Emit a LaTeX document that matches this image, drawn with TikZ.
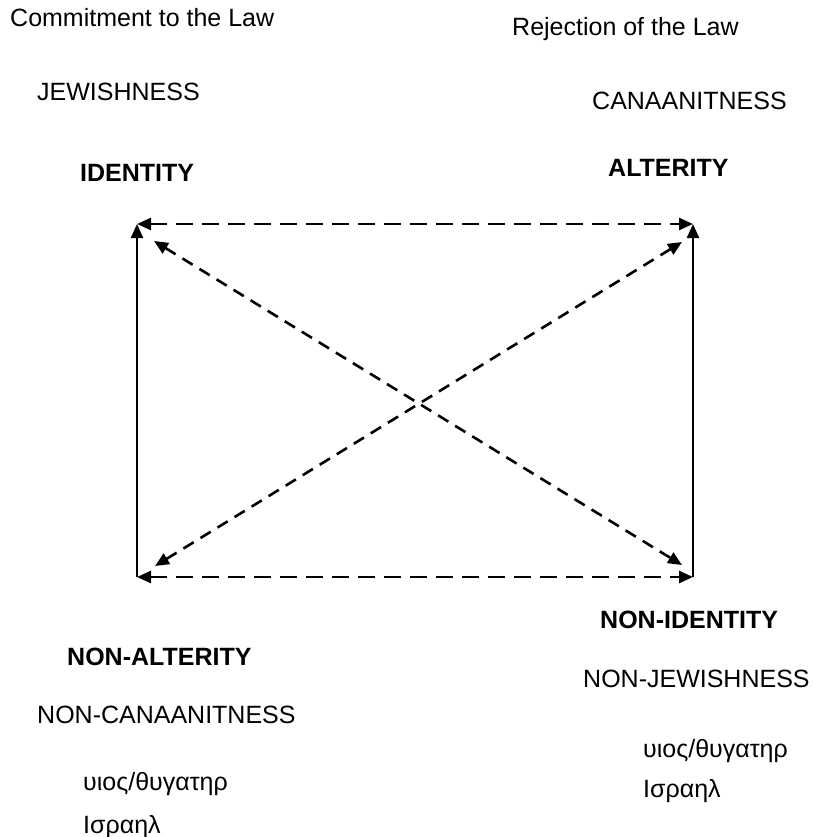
\documentclass[tikz,border=0pt]{standalone}
\usepackage{fontspec}
\setmainfont{Liberation Sans}
\usetikzlibrary{arrows.meta}
\begin{document}
\begin{tikzpicture}[x=1pt,y=-1pt,
  lbl/.style={font=\fontsize{25}{30}\selectfont, inner sep=0pt, anchor=base west},
  hd/.style={lbl, font=\fontsize{25}{30}\selectfont\bfseries},
  solidarr/.style={-{Triangle[length=14pt,width=12pt]}, line width=2.4pt},
  dasharr/.style={{Triangle[length=14pt,width=12pt]}-{Triangle[length=14pt,width=12pt]}, line width=2.6pt, dash pattern=on 17pt off 9pt},
  diagarr/.style={{Triangle[length=14pt,width=12pt]}-{Triangle[length=14pt,width=12pt]}, line width=2.6pt, dash pattern=on 12pt off 8pt}]
\useasboundingbox (0,0) rectangle (812,837);

% square of opposition corners
\coordinate (TL) at (137,224);
\coordinate (TR) at (693,224);
\coordinate (BL) at (137,577);
\coordinate (BR) at (693,577);
% ends of the two diagonals
\coordinate (DTL) at (154,241);
\coordinate (DBR) at (682,565);
\coordinate (DBL) at (155,566);
\coordinate (DTR) at (682,242);

% sides
\draw[solidarr] (BL) -- (TL);
\draw[solidarr] (BR) -- (TR);
\draw[dasharr] (TL) -- (TR);
\draw[dasharr] (BL) -- (BR);
% diagonals
\draw[diagarr] (DTL) -- (DBR);
\draw[diagarr] (DBL) -- (DTR);

% upper labels
\node[lbl] (commit) at (10,27) {Commitment to the Law};
\node[lbl] (reject) at (512,36) {Rejection of the Law};
\node[lbl] (jew) at (37,101) {JEWISHNESS};
\node[lbl] (can) at (592,110) {CANAANITNESS};
\node[hd] (ident) at (80,182) {IDENTITY};
\node[hd] (alter) at (608,176) {ALTERITY};

% lower labels
\node[hd] (nonident) at (600,628) {NON-IDENTITY};
\node[hd] (nonalter) at (67,665) {NON-ALTERITY};
\node[lbl] (nonjew) at (583,687) {NON-JEWISHNESS};
\node[lbl] (noncan) at (37,723) {NON-CANAANITNESS};
\node[lbl] (sonR) at (643,757) {υιος/θυγατηρ};
\node[lbl] (isrR) at (643,797) {Ισραηλ};
\node[lbl] (sonL) at (83,790) {υιος/θυγατηρ};
\node[lbl] (isrL) at (83,833) {Ισραηλ};
\end{tikzpicture}
\end{document}
